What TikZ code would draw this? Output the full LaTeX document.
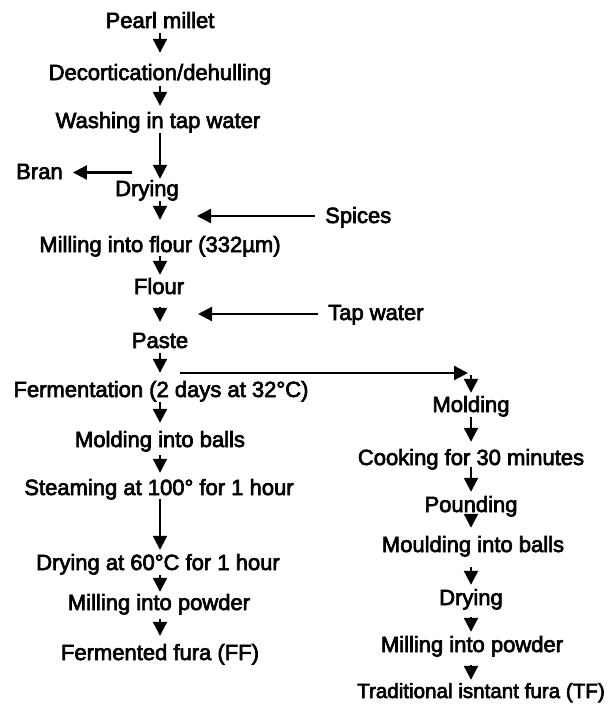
\documentclass[tikz,border=0pt]{standalone}
\usepackage{fontspec}
\newfontfamily\flowfont{Liberation Sans}[FakeBold=3]
\usetikzlibrary{arrows.meta}
\tikzset{
  lbl/.style={font=\flowfont\fontsize{22}{26}\selectfont, inner sep=0pt, text height=16pt, text depth=5pt, anchor=base},
  arr/.style={line width=2.2pt, -{Triangle[length=14pt,width=14pt]}}
}
\begin{document}
\begin{tikzpicture}[x=1pt,y=-1pt]
\useasboundingbox (0,0) rectangle (608,704);
\coordinate (colL) at (160,0);
\coordinate (colR) at (471,0);
% left column
\node[lbl] (pm) at (160,28) {Pearl millet};
\node[lbl] (dec) at (160,80) {Decortication/dehulling};
\node[lbl] (wash) at (158,128) {Washing in tap water};
\node[lbl] (dry1) at (147,196) {Drying};
\node[lbl] (mf) at (160,252) {Milling into flour (332µm)};
\node[lbl] (fl) at (159,294) {Flour};
\node[lbl] (pa) at (160,348) {Paste};
\node[lbl] (fe) at (161,397) {Fermentation (2 days at 32°C)};
\node[lbl] (mb) at (160,447) {Molding into balls};
\node[lbl] (st) at (159,495) {Steaming at 100° for 1 hour};
\node[lbl] (d60) at (158,570) {Drying at 60°C for 1 hour};
\node[lbl] (mp) at (159,610) {Milling into powder};
\node[lbl] (ff) at (160,660) {Fermented fura (FF)};
% side inputs/outputs
\node[lbl] (bran) at (39.5,179) {Bran};
\node[lbl,anchor=base west] (sp) at (325,223) {Spices};
\node[lbl,anchor=base west] (tw) at (328,320) {Tap water};
% right column
\node[lbl] (mo) at (471,412) {Molding};
\node[lbl] (co) at (471,465) {Cooking for 30 minutes};
\node[lbl] (po) at (471,512) {Pounding};
\node[lbl] (mo2) at (473,552) {Moulding into balls};
\node[lbl] (dr2) at (471,605) {Drying};
\node[lbl] (mi2) at (472,652) {Milling into powder};
\node[lbl,font=\flowfont\fontsize{20.6}{24}\selectfont] (tf) at (481,698) {Traditional isntant fura (TF)};
% free ends
\coordinate (bs) at (132,172.5);
\coordinate (spT) at (197,216);
\coordinate (twT) at (198,314);
\coordinate (brS) at (180,373);
\coordinate (brE) at (468,373);
\coordinate (brD) at (471,375);
% left flow
\draw[arr,shorten >=11pt] (pm.south -| colL) -- (dec.north -| colL);
\draw[arr,shorten <=1pt,shorten >=6pt] (dec.south -| colL) -- (wash.north -| colL);
\draw[arr,shorten >=1pt] (wash.south -| colL) -- (dry1.north -| colL);
\draw[arr,shorten >=16pt] (dry1.south -| colL) -- (mf.north -| colL);
\draw[arr,shorten <=-1pt,shorten >=3pt] (mf.south -| colL) -- (fl.north -| colL);
\draw[arr,shorten <=8pt,shorten >=10pt] (fl.south -| colL) -- (pa.north -| colL);
\draw[arr,shorten >=8pt] (pa.south -| colL) -- (fe.north -| colL);
\draw[arr,shorten >=8pt] (fe.south -| colL) -- (mb.north -| colL);
\draw[arr,shorten <=3pt,shorten >=6pt] (mb.south -| colL) -- (st.north -| colL);
\draw[arr,shorten <=-1pt,shorten >=4pt] (st.south -| colL) -- (d60.north -| colL);
\draw[arr,shorten >=2pt] (d60.south -| colL) -- (mp.north -| colL);
\draw[arr,shorten <=4pt,shorten >=8pt] (mp.south -| colL) -- (ff.north -| colL);
% side arrows
\draw[arr,shorten >=10pt] (bs) -- (bs -| bran.east);
\draw[arr,shorten <=10pt] (spT -| sp.west) -- (spT);
\draw[arr,shorten <=10pt] (twT -| tw.west) -- (twT);
% branch
\draw[arr] (brS) -- (brE);
\draw[arr,shorten >=3pt] (brD) -- (mo.north -| brD);
% right flow
\draw[arr,shorten >=7pt] (mo.south -| colR) -- (co.north -| colR);
\draw[arr,shorten <=-3pt,shorten >=4pt] (co.south -| colR) -- (po.north -| colR);
\draw[arr,shorten <=-4pt,shorten >=8pt] (po.south -| colR) -- (mo2.north -| colR);
\draw[arr,shorten <=10pt,shorten >=4pt] (mo2.south -| colR) -- (dr2.north -| colR);
\draw[arr,shorten <=7pt,shorten >=4pt] (dr2.south -| colR) -- (mi2.north -| colR);
\draw[arr,shorten <=8pt,shorten >=2pt] (mi2.south -| colR) -- (tf.north -| colR);
\end{tikzpicture}
\end{document}
